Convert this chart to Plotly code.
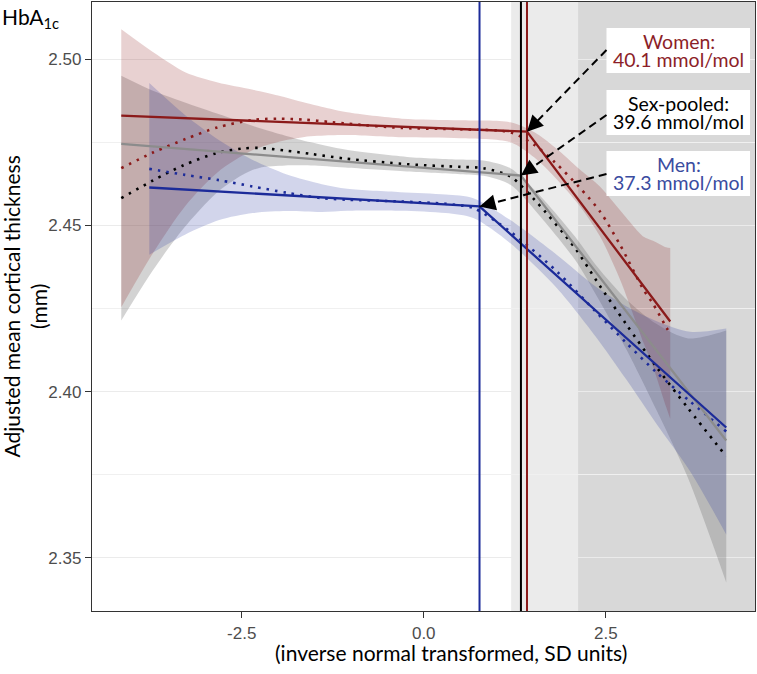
import plotly.graph_objects as go

# ---------------- data ----------------
# Sex-pooled smooth fit (dotted) and its confidence band
pooled_x = [-4.155, -3.72, -3.30, -2.85, -2.50, -2.26, -1.90, -1.55, -1.08, -0.23, 0.50, 0.82, 1.19, 1.53, 2.08, 2.38, 2.78, 3.20, 3.63, 4.155]
pooled_fit = [2.4582, 2.4635, 2.4681, 2.4717, 2.4731, 2.4733, 2.4725, 2.4715, 2.4701, 2.4684, 2.4676, 2.4672, 2.4647, 2.4575, 2.4431, 2.4331, 2.4203, 2.4073, 2.3950, 2.3805]
pooled_lo = [2.4214, 2.4365, 2.4491, 2.4597, 2.4651, 2.4673, 2.4680, 2.4680, 2.4674, 2.4662, 2.4654, 2.4649, 2.4622, 2.4545, 2.4396, 2.4286, 2.4128, 2.3943, 2.3740, 2.3426]
pooled_hi = [2.4950, 2.4905, 2.4871, 2.4837, 2.4811, 2.4793, 2.4770, 2.4750, 2.4728, 2.4706, 2.4698, 2.4695, 2.4672, 2.4605, 2.4466, 2.4376, 2.4278, 2.4203, 2.4160, 2.4184]
pooled_seg_x = [-4.155, 1.335, 4.155]
pooled_seg_y = [2.4745, 2.4650, 2.3853]

# Women
women_x = [-4.155, -3.71, -3.27, -2.83, -2.36, -2.00, -1.64, -1.28, -1.05, -0.30, 0.50, 1.19, 1.52, 1.80, 2.14, 2.42, 2.70, 3.02, 3.15, 3.33, 3.386]
women_fit = [2.4672, 2.4720, 2.4760, 2.4795, 2.4817, 2.4821, 2.4818, 2.4811, 2.4806, 2.4793, 2.4789, 2.4780, 2.4742, 2.4690, 2.4614, 2.4542, 2.4440, 2.4306, 2.4264, 2.4194, 2.4175]
women_lo = [2.4254, 2.4420, 2.4560, 2.4660, 2.4725, 2.4751, 2.4766, 2.4771, 2.4772, 2.4765, 2.4762, 2.4750, 2.4704, 2.4645, 2.4559, 2.4467, 2.4335, 2.4146, 2.4074, 2.3954, 2.3918]
women_hi = [2.5090, 2.5020, 2.4960, 2.4930, 2.4909, 2.4891, 2.4870, 2.4851, 2.4840, 2.4821, 2.4816, 2.4810, 2.4780, 2.4735, 2.4669, 2.4617, 2.4545, 2.4466, 2.4454, 2.4434, 2.4432]
women_seg_x = [-4.155, 1.418, 3.386]
women_seg_y = [2.4830, 2.4782, 2.4211]

# Men
men_x = [-3.77, -3.28, -2.81, -2.35, -1.88, -1.40, -1.05, -0.32, 0.30, 0.68, 1.19, 1.83, 2.36, 2.78, 3.20, 3.66, 4.155]
men_fit = [2.4670, 2.4652, 2.4636, 2.4617, 2.4598, 2.4582, 2.4577, 2.4572, 2.4565, 2.4552, 2.4481, 2.4361, 2.4241, 2.4147, 2.4057, 2.3970, 2.3880]
men_lo = [2.4412, 2.4472, 2.4516, 2.4537, 2.4543, 2.4540, 2.4544, 2.4544, 2.4537, 2.4522, 2.4446, 2.4311, 2.4166, 2.4037, 2.3902, 2.3760, 2.3570]
men_hi = [2.4928, 2.4832, 2.4756, 2.4697, 2.4653, 2.4624, 2.4610, 2.4600, 2.4593, 2.4582, 2.4516, 2.4411, 2.4316, 2.4257, 2.4212, 2.4180, 2.4190]
men_seg_x = [-3.77, 0.766, 4.155]
men_seg_y = [2.4614, 2.4557, 2.3892]

# breakpoints (SD units) and labels
breakpoints = {"Women": 1.418, "Sex-pooled": 1.335, "Men": 0.766}
bp_labels = {"Women": "40.1 mmol/mol", "Sex-pooled": "39.6 mmol/mol", "Men": "37.3 mmol/mol"}
shade_starts = [1.20, 2.12]

x_ticks = [-2.5, 0.0, 2.5]
y_ticks = [2.35, 2.40, 2.45, 2.50]

# ---------------- styling ----------------
RED = "#8B1A1A"
BLUE = "#1C2B99"
GREY = "#8C8C8C"
RED_TXT = "#8C1E28"
BLUE_TXT = "#3A4CA0"
XR = [-4.557, 4.550]
YR = [2.3340, 2.5172]
W, H = 757, 674
ML, MR, MT, MB = 92, 2, 2, 63
PW, PH = W - ML - MR, H - MT - MB

def px2x(px):
    return XR[0] + (px - ML) / PW * (XR[1] - XR[0])

def py2y(py):
    return YR[1] - (py - MT) / PH * (YR[1] - YR[0])

fig = go.Figure()

def band(xs, lo, hi, color):
    fig.add_trace(go.Scatter(x=xs, y=lo, mode="lines", line=dict(width=0, shape="spline", smoothing=0.8),
                             hoverinfo="skip", showlegend=False))
    fig.add_trace(go.Scatter(x=xs, y=hi, mode="lines", line=dict(width=0, shape="spline", smoothing=0.8),
                             fill="tonexty", fillcolor=color, hoverinfo="skip", showlegend=False))

band(pooled_x, pooled_lo, pooled_hi, "rgba(110,110,110,0.30)")
band(women_x, women_lo, women_hi, "rgba(139,26,26,0.20)")
band(men_x, men_lo, men_hi, "rgba(28,43,153,0.20)")

DOT = "2.5px,6px"
fig.add_trace(go.Scatter(x=pooled_x, y=pooled_fit, mode="lines",
                         line=dict(color="black", width=2.6, dash=DOT, shape="spline", smoothing=0.8), showlegend=False))
fig.add_trace(go.Scatter(x=women_x, y=women_fit, mode="lines",
                         line=dict(color=RED, width=2.6, dash=DOT, shape="spline", smoothing=0.8), showlegend=False))
fig.add_trace(go.Scatter(x=men_x, y=men_fit, mode="lines",
                         line=dict(color=BLUE, width=2.6, dash=DOT, shape="spline", smoothing=0.8), showlegend=False))

fig.add_trace(go.Scatter(x=pooled_seg_x, y=pooled_seg_y, mode="lines", line=dict(color=GREY, width=2.3), showlegend=False))
fig.add_trace(go.Scatter(x=women_seg_x, y=women_seg_y, mode="lines", line=dict(color=RED, width=2.3), showlegend=False))
fig.add_trace(go.Scatter(x=men_seg_x, y=men_seg_y, mode="lines", line=dict(color=BLUE, width=2.3), showlegend=False))

shapes = []
for s in shade_starts:
    shapes.append(dict(type="rect", xref="x", yref="paper", x0=s, x1=XR[1], y0=0, y1=1,
                       fillcolor="rgba(0,0,0,0.08)", line=dict(width=0), layer="between"))
vcol = {"Women": RED, "Sex-pooled": "black", "Men": BLUE}
for k, v in breakpoints.items():
    shapes.append(dict(type="line", xref="x", yref="paper", x0=v, x1=v, y0=0, y1=1,
                       line=dict(color=vcol[k], width=2), layer="above"))

# label boxes and arrows
knot_y = {"Women": women_seg_y[1], "Sex-pooled": pooled_seg_y[1], "Men": men_seg_y[1]}
box_top_px = {"Women": 28, "Sex-pooled": 90, "Men": 151}
tail_px = {"Women": 50, "Sex-pooled": 115, "Men": 174}
txtcol = {"Women": RED_TXT, "Sex-pooled": "black", "Men": BLUE_TXT}
annotations = []
bx0, bx1 = px2x(606.5), px2x(750)
for k in ["Women", "Sex-pooled", "Men"]:
    t = box_top_px[k]
    shapes.append(dict(type="rect", xref="x", yref="y", x0=bx0, x1=bx1, y0=py2y(t + 45), y1=py2y(t),
                       fillcolor="white", line=dict(width=0), layer="above"))
    tx, ty = px2x(606.5), py2y(tail_px[k])
    hx, hy = breakpoints[k], knot_y[k]
    shapes.append(dict(type="line", xref="x", yref="y", x0=tx, y0=ty, x1=hx, y1=hy,
                       line=dict(color="black", width=2, dash="8px,5px"), layer="above"))
    # arrow head
    dxp = (tx - hx) / (XR[1] - XR[0]) * PW
    dyp = (ty - hy) / (YR[1] - YR[0]) * PH
    L = (dxp ** 2 + dyp ** 2) ** 0.5
    fx = hx + (tx - hx) * 16 / L
    fy = hy + (ty - hy) * 16 / L
    annotations.append(dict(x=hx, y=hy, ax=fx, ay=fy, xref="x", yref="y", axref="x", ayref="y",
                            text="", showarrow=True, arrowhead=2, arrowsize=1.6, arrowwidth=2,
                            arrowcolor="black", standoff=0))
    cx = px2x(678.5)
    annotations.append(dict(x=cx, y=py2y(t + 13), xref="x", yref="y", text=k + ":", showarrow=False,
                            font=dict(family="Lato", size=19.5, color=txtcol[k]), xanchor="center", yanchor="middle"))
    annotations.append(dict(x=cx, y=py2y(t + 31), xref="x", yref="y", text=bp_labels[k], showarrow=False,
                            font=dict(family="Lato", size=19.5, color=txtcol[k]), xanchor="center", yanchor="middle"))

# titles
annotations.append(dict(x=(0 - ML) / PW, y=1 + (MT - 2) / PH, xref="paper", yref="paper", xanchor="left", yanchor="top",
                        text="HbA<sub>1c</sub>", showarrow=False, font=dict(family="Lato", size=21, color="black")))
annotations.append(dict(x=(24 - ML) / PW, y=0.5, xref="paper", yref="paper", xanchor="center", yanchor="middle",
                        text="Adjusted mean cortical thickness<br>(mm)", textangle=-90, showarrow=False,
                        font=dict(family="Lato", size=21, color="black")))
annotations.append(dict(x=(451 - ML) / PW, y=-(652 - MT - PH) / PH, xref="paper", yref="paper", xanchor="center",
                        yanchor="middle", text="(inverse normal transformed, SD units)", showarrow=False,
                        font=dict(family="Lato", size=21, color="black")))

axis_common = dict(showline=True, mirror=True, linecolor="#333333", linewidth=1.3, ticks="outside",
                   ticklen=6, tickwidth=1.3, tickcolor="#333333", zeroline=False,
                   tickfont=dict(family="Liberation Sans, Arial", size=17, color="#4D4D4D"))
fig.update_layout(
    width=W, height=H, margin=dict(l=ML, r=MR, t=MT, b=MB),
    plot_bgcolor="white", paper_bgcolor="white", showlegend=False,
    shapes=shapes, annotations=annotations,
    xaxis=dict(range=XR, tickvals=x_ticks, ticktext=[f"{v:.1f}" for v in x_ticks], showgrid=False, **axis_common),
    yaxis=dict(range=YR, tickvals=y_ticks, ticktext=[f"{v:.2f}" for v in y_ticks], showgrid=True,
               gridcolor="#EBEBEB", gridwidth=1.4,
               minor=dict(tickvals=[2.375, 2.425, 2.475], showgrid=True, gridcolor="#F0F0F0", gridwidth=0.8, ticks=""),
               **axis_common),
)
fig.write_html("out.html", config={"displayModeBar": False},
               post_script="document.body.style.margin='0px';document.body.style.overflow='hidden';")
